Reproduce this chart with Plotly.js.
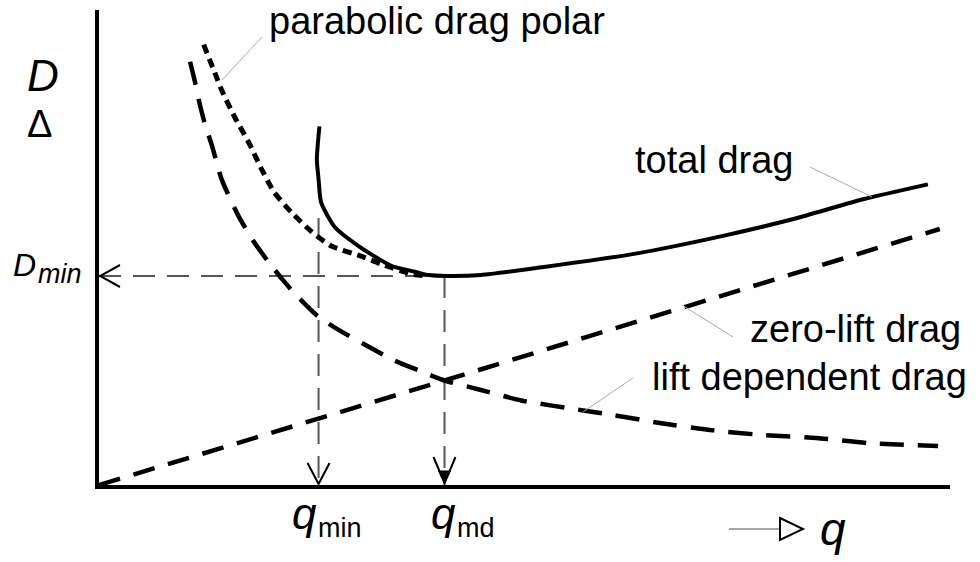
<!DOCTYPE html>
<html>
<head>
<meta charset="utf-8">
<script src="https://cdn.plot.ly/plotly-3.0.1.min.js"></script>
<style>html,body{margin:0;padding:0;background:#fff;}#chart{width:980px;height:562px;}</style>
</head>
<body>
<div id="chart"></div>
<script>
// ---- data (q = speed-like abscissa, D = drag) ----
const polarQ = [1.23, 1.36, 1.44, 1.59, 1.76, 1.91, 2.06, 2.26, 2.50, 2.73, 3.08, 3.32, 3.67, 3.85];
const polarD = [9.27, 8.68, 8.32, 7.76, 7.21, 6.65, 6.16, 5.74, 5.33, 5.03, 4.82, 4.65, 4.44, 4.40];

const totalQ = [2.59, 2.56, 2.58, 2.61, 2.77, 3.05, 3.44, 3.71, 3.87, 4.08, 4.49, 5.23, 6.27, 7.32, 8.16, 8.99, 9.74];
const totalD = [7.55, 6.86, 6.44, 5.95, 5.43, 5.03, 4.61, 4.49, 4.42, 4.40, 4.42, 4.59, 4.86, 5.24, 5.60, 6.02, 6.33];

const liftQ = [1.07, 1.13, 1.18, 1.24, 1.33, 1.44, 1.64, 1.82, 1.99, 2.15, 2.30, 2.58, 2.85, 3.17, 3.47, 3.79, 4.06, 4.51, 4.96, 5.69, 6.05, 6.61, 7.22, 7.82, 8.43, 9.04, 9.86];
const liftD = [8.91, 8.47, 8.05, 7.63, 7.13, 6.44, 5.66, 5.12, 4.70, 4.34, 4.03, 3.54, 3.23, 2.91, 2.62, 2.39, 2.20, 1.99, 1.78, 1.57, 1.47, 1.30, 1.15, 1.05, 0.99, 0.88, 0.82];

const zeroQ = [0, 4.06, 9.88];
const zeroD = [0, 2.20, 5.39];

const qMin = 2.58;   // q_min
const qMd = 4.06;    // q_md
const dMin = 4.40;   // D_min
const qTop = 5.62;   // top of the q_min guide

// ---- layout geometry helpers (pixel -> paper) ----
const L = 99, R = 950, T = 10, B = 485;
const W = R - L, H = B - T;
const PX = px => (px - L) / W;
const PY = py => (B - py) / H;
const FONT = 'Liberation Sans, Arial, sans-serif';

function label(px, py, text, size, anchor) {
  return {xref: 'paper', yref: 'paper', x: PX(px), y: PY(py), text: text,
          showarrow: false, xanchor: anchor || 'left', yanchor: 'middle',
          font: {family: FONT, size: size, color: '#000'}};
}
function leader(x0, y0, x1, y1) {
  return {type: 'line', xref: 'paper', yref: 'paper', x0: PX(x0), y0: PY(y0), x1: PX(x1), y1: PY(y1),
          line: {color: '#aaaaaa', width: 1}};
}

const traces = [
  {x: zeroQ, y: zeroD, mode: 'lines', line: {color: '#000', width: 4.5, dash: '22px,14px'}, hoverinfo: 'skip'},
  {x: liftQ, y: liftD, mode: 'lines', line: {color: '#000', width: 4.5, dash: '24px,14px', shape: 'spline', smoothing: 0.6}, hoverinfo: 'skip'},
  {x: polarQ, y: polarD, mode: 'lines', line: {color: '#000', width: 5, dash: '9px,6px', shape: 'spline', smoothing: 0.6}, hoverinfo: 'skip'},
  {x: totalQ, y: totalD, mode: 'lines', line: {color: '#000', width: 4, shape: 'spline', smoothing: 0.6}, hoverinfo: 'skip'}
];

const guide = {color: '#555555', width: 2, dash: '22px,12px'};
const shapes = [
  {type: 'line', xref: 'x', yref: 'y', x0: 0, x1: qMd, y0: dMin, y1: dMin, line: guide, layer: 'below'},
  {type: 'line', xref: 'x', yref: 'y', x0: qMd, x1: qMd, y0: dMin, y1: 0, line: guide, layer: 'below'},
  {type: 'line', xref: 'x', yref: 'y', x0: qMin, x1: qMin, y0: qTop, y1: 0, line: guide, layer: 'below'},
  // arrowheads
  {type: 'path', xref: 'x', yref: 'y', xsizemode: 'pixel', ysizemode: 'pixel', xanchor: 0, yanchor: dMin,
   path: 'M21,11 L1,0 L21,-11', line: {color: '#000', width: 2}},
  {type: 'path', xref: 'x', yref: 'y', xsizemode: 'pixel', ysizemode: 'pixel', xanchor: qMin, yanchor: 0,
   path: 'M-11,22 L0,1 L11,22', line: {color: '#000', width: 2}},
  {type: 'path', xref: 'x', yref: 'y', xsizemode: 'pixel', ysizemode: 'pixel', xanchor: qMd, yanchor: 0,
   path: 'M-11,28 L0,2 L11,28', line: {color: '#000', width: 2}},
  {type: 'path', xref: 'x', yref: 'y', xsizemode: 'pixel', ysizemode: 'pixel', xanchor: qMd, yanchor: 0,
   path: 'M-6,14 L6,14 L0,2 Z', fillcolor: '#000', line: {color: '#000', width: 1}},
  // leader lines
  leader(262, 37, 222, 80),
  leader(810, 167, 872, 197),
  leader(682, 305, 733, 337),
  leader(633, 378, 583, 412),
  // q direction arrow below the axis
  {type: 'line', xref: 'paper', yref: 'paper', x0: PX(729), y0: PY(529), x1: PX(780), y1: PY(529),
   line: {color: '#888888', width: 1.5}},
  {type: 'path', xref: 'paper', yref: 'paper', xsizemode: 'pixel', ysizemode: 'pixel', xanchor: PX(780), yanchor: PY(529),
   path: 'M0,11 L23,0 L0,-11 Z', line: {color: '#000', width: 2}, fillcolor: 'rgba(0,0,0,0)'}
];

const annotations = [
  label(267, 21, 'parabolic drag polar', 38),
  label(633, 160, 'total drag', 38),
  label(748, 329, 'zero-lift drag', 38),
  label(650, 377, 'lift dependent drag', 38),
  label(43, 76, '<i>D</i>', 44, 'center'),
  label(40, 124, 'Δ', 38, 'center'),
  label(11, 265, '<i>D</i>', 32),
  label(36, 274, '<i>min</i>', 27),
  label(290, 513, '<i>q</i>', 44),
  label(316, 528, 'min', 27),
  label(429, 513, '<i>q</i>', 44),
  label(455, 528, 'md', 27),
  label(818, 529, '<i>q</i>', 46)
];

const layout = {
  width: 980, height: 562,
  margin: {l: L, r: 980 - R, t: T, b: 562 - B, pad: 0},
  paper_bgcolor: '#fff', plot_bgcolor: '#fff',
  showlegend: false,
  xaxis: {range: [0, 10], showline: true, linecolor: '#000', linewidth: 4, showgrid: false, zeroline: false,
          showticklabels: false, ticks: '', fixedrange: true},
  yaxis: {range: [0, 10], showline: true, linecolor: '#000', linewidth: 4, showgrid: false, zeroline: false,
          showticklabels: false, ticks: '', fixedrange: true},
  shapes: shapes,
  annotations: annotations,
  font: {family: FONT, color: '#000'}
};

Plotly.newPlot('chart', traces, layout, {displayModeBar: false, staticPlot: true});
</script>
</body>
</html>
